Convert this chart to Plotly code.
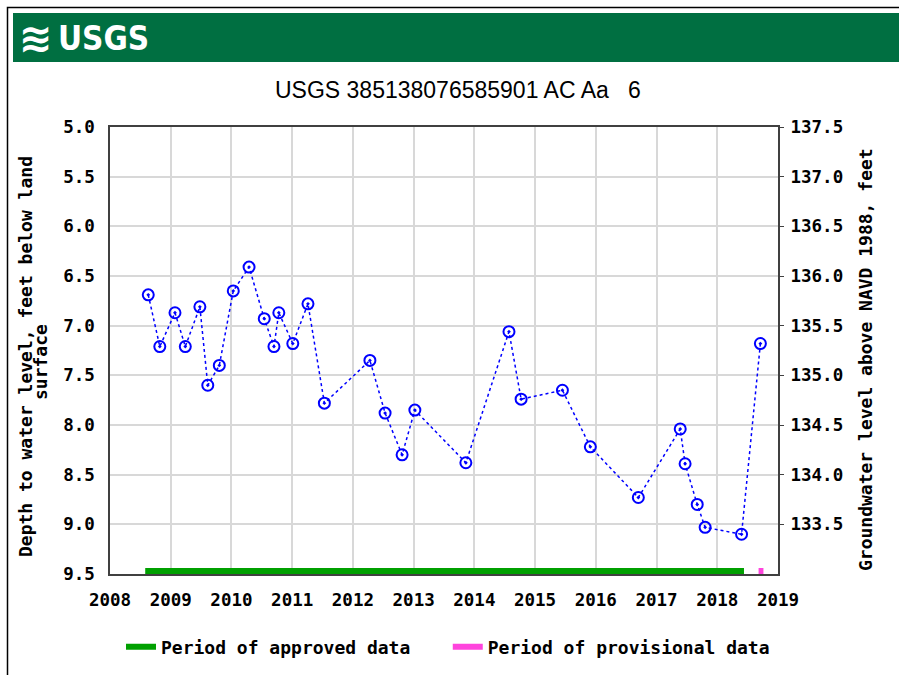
import plotly.graph_objects as go

# Data (decimal years, depth to water in feet below land surface)
years = [2008.63, 2008.82, 2009.07, 2009.24, 2009.48, 2009.61, 2009.80, 2010.03,
         2010.29, 2010.54, 2010.70, 2010.78, 2011.01, 2011.26, 2011.53, 2012.28,
         2012.53, 2012.81, 2013.02, 2013.86, 2014.57, 2014.77, 2015.45, 2015.91,
         2016.70, 2017.39, 2017.47, 2017.67, 2017.80, 2018.40, 2018.71]
depth = [6.69, 7.21, 6.87, 7.21, 6.81, 7.60, 7.40, 6.65,
         6.41, 6.93, 7.21, 6.87, 7.18, 6.78, 7.78, 7.35,
         7.88, 8.30, 7.85, 8.38, 7.06, 7.74, 7.65, 8.22,
         8.73, 8.04, 8.39, 8.80, 9.03, 9.10, 7.18]
approved_period = [2008.58, 2018.44]
provisional_period = [2018.68, 2018.76]
land_surface_elev = 142.5
left_ticks = [5.0, 5.5, 6.0, 6.5, 7.0, 7.5, 8.0, 8.5, 9.0, 9.5]
right_ticks = [133.5, 134.0, 134.5, 135.0, 135.5, 136.0, 136.5, 137.0, 137.5]
year_ticks = list(range(2008, 2020))

mono = "DejaVu Sans Mono"
W, H = 899, 675
L, T, PW, PH = 110, 127, 668, 447


def px(x):
    return (x - L) / PW


def py(y):
    return (T + PH - y) / PH


fig = go.Figure()

fig.add_trace(go.Scatter(
    x=years, y=depth, mode="lines+markers", showlegend=False,
    line=dict(color="#0000FF", width=1.5, dash="dot"),
    marker=dict(symbol="circle-open-dot", size=11, color="#0000FF",
                line=dict(width=2, color="#0000FF")),
))
fig.add_trace(go.Scatter(
    x=approved_period, y=[9.47, 9.47], mode="lines",
    name="Period of approved data\u00a0\u00a0\u00a0",
    line=dict(color="#00A000", width=6),
))
fig.add_trace(go.Scatter(
    x=provisional_period, y=[9.47, 9.47], mode="lines", name="Period of provisional data",
    line=dict(color="#FF44DD", width=6),
))
# invisible trace to activate right axis
fig.add_trace(go.Scatter(
    x=[years[0]], y=[land_surface_elev - depth[0]], yaxis="y2", mode="markers",
    marker=dict(opacity=0), showlegend=False, hoverinfo="skip",
))

tickfont = dict(family=mono, size=17.5, color="black", weight="bold")
titlefont = dict(family=mono, size=18, color="black", weight="bold")

fig.update_layout(
    width=W, height=H,
    margin=dict(l=L, r=W - L - PW, t=T, b=H - T - PH, autoexpand=False),
    paper_bgcolor="white", plot_bgcolor="white",
    xaxis=dict(range=[2008, 2019], tickvals=year_ticks, ticktext=[str(y) for y in year_ticks],
               showgrid=True, gridcolor="#D8D8D8", gridwidth=1.5,
               showline=True, linecolor="#404040", linewidth=1.5, mirror=True,
               ticks="", ticklabelstandoff=9, tickfont=tickfont, zeroline=False),
    yaxis=dict(range=[9.5, 5.0], tickvals=left_ticks, ticktext=[f"{v:.1f}" for v in left_ticks],
               showgrid=True, gridcolor="#D8D8D8", gridwidth=1.5,
               showline=True, linecolor="#404040", linewidth=1.5, mirror=True,
               ticks="", ticklabelstandoff=10, tickfont=tickfont, zeroline=False),
    yaxis2=dict(range=[land_surface_elev - 9.5, land_surface_elev - 5.0], overlaying="y",
                side="right", tickvals=right_ticks, ticktext=[f"{v:.1f}" for v in right_ticks],
                showgrid=False, ticks="outside", ticklen=5, tickcolor="#404040",
                ticklabelstandoff=3, tickfont=tickfont, zeroline=False),
    legend=dict(orientation="h", x=px(448), xanchor="center", y=py(647), yanchor="middle",
                font=titlefont, itemwidth=30, tracegroupgap=0),
    shapes=[
        dict(type="rect", xref="paper", yref="paper",
             x0=px(13), x1=px(905), y0=py(62), y1=py(13),
             line=dict(width=0), fillcolor="#006F41", layer="below"),
        dict(type="rect", xref="paper", yref="paper",
             x0=px(7.5), x1=px(910), y0=py(700), y1=py(7.5),
             line=dict(width=1.5, color="black"), fillcolor="rgba(0,0,0,0)", layer="below"),
    ],
    annotations=[
        dict(text="≋", xref="paper", yref="paper",
             x=px(36), y=py(38), xanchor="center", yanchor="middle",
             showarrow=False, font=dict(family="DejaVu Sans", size=40, color="white",
                                        weight="bold")),
        dict(text="USGS", xref="paper", yref="paper",
             x=px(56), y=py(38), xanchor="left", yanchor="middle",
             showarrow=False, font=dict(family="DejaVu Sans Condensed, DejaVu Sans",
                                        size=33, color="white", weight="bold")),
        dict(text="USGS 385138076585901 AC Aa   6", xref="paper", yref="paper",
             x=px(458), y=py(90), xanchor="center", yanchor="middle",
             showarrow=False, font=dict(family="Liberation Sans, Arial",
                                        size=23, color="black")),
        # left axis title (two tightly spaced lines)
        dict(text="Depth to water level, feet below land", xref="paper", yref="paper",
             x=px(25), y=py(357), xanchor="center", yanchor="middle", textangle=-90,
             showarrow=False, font=titlefont),
        dict(text="surface", xref="paper", yref="paper",
             x=px(40), y=py(362), xanchor="center", yanchor="middle", textangle=-90,
             showarrow=False, font=titlefont),
        # right axis title
        dict(text="Groundwater level above NAVD 1988, feet", xref="paper", yref="paper",
             x=px(865), y=py(360), xanchor="center", yanchor="middle", textangle=-90,
             showarrow=False, font=titlefont),
    ],
)

fig.write_html("out.html", config={"displayModeBar": False},
               post_script="document.body.style.margin='0';")
